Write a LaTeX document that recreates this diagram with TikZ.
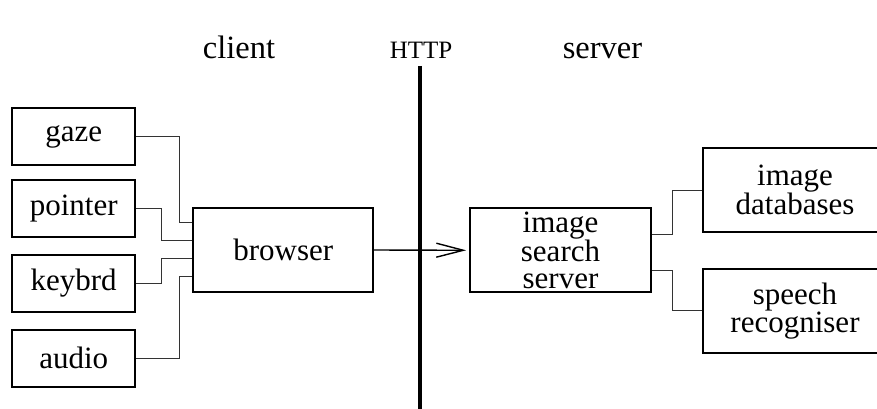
\documentclass[tikz,border=0pt]{standalone}
\usepackage{fontspec}
\setmainfont{Liberation Serif}
\usetikzlibrary{arrows.meta}

\tikzset{
  box/.style={draw, line width=1.8pt, inner sep=0pt, align=center,
              font=\fontsize{31}{26.5}\selectfont},
  inbox/.style={box, minimum width=122.7pt, minimum height=56.7pt},
  bigbox/.style={box, minimum width=182pt, minimum height=84pt},
  wire/.style={draw=black!80, line width=1pt},
  label/.style={anchor=base, inner sep=0pt, font=\fontsize{32.5}{32.5}\selectfont},
  sep/.style={line width=4.5pt},
  flow/.style={line width=1.4pt, -{Straight Barb[length=27pt,width=14pt]}, shorten >=3pt}
}

\begin{document}
\begin{tikzpicture}[x=1pt, y=-1pt]
  \clip (0,0) rectangle (877,409);

  % column headings
  \node[label] (client) at (239,59) {client};
  \node[label, font=\fontsize{25}{25}\selectfont] (http) at (421,59) {HTTP};
  \node[label] (server) at (602.5,59) {server};

  % client/server boundary
  \coordinate (septop) at (420,66);
  \coordinate (sepbot) at (420,412);
  \draw[sep] (septop) -- (sepbot);

  % input devices
  \node[inbox] (gaze)    at (73.7,136.7) {gaze};
  \node[inbox] (pointer) at (73.7,208.3) {pointer};
  \node[inbox] (keybrd)  at (73.7,283.3) {keybrd};
  \node[inbox] (audio)   at (73.7,358.3) {audio};

  % client and server components
  \node[bigbox, minimum width=180pt] (browser) at (283.3,250) {browser};
  \node[bigbox, minimum width=181pt] (iss) at (560.5,250.3) {image\\search\\server};
  \node[bigbox, minimum width=183.4pt] (db) at (795,190.2) {image\\databases};
  \node[bigbox, minimum width=183.4pt] (speech) at (795,310.9) {speech\\recogniser};

  % devices feeding the browser
  \draw[wire] (gaze.east)    -- ++(44,0) |- ([yshift=28pt]browser.west);
  \draw[wire] (pointer.east) -- ++(26,0) |- ([yshift=10pt]browser.west);
  \draw[wire] (keybrd.east)  -- ++(26,0) |- ([yshift=-8pt]browser.west);
  \draw[wire] (audio.east)   -- ++(44,0) |- ([yshift=-26.5pt]browser.west);

  % request over HTTP
  \draw[flow] (browser.east) -- (iss.west);

  % server back ends
  \draw[wire] ([yshift=16pt]iss.east)  -- ++(21,0) |- (db.west);
  \draw[wire] ([yshift=-20pt]iss.east) -- ++(21,0) |- (speech.west);
\end{tikzpicture}
\end{document}
